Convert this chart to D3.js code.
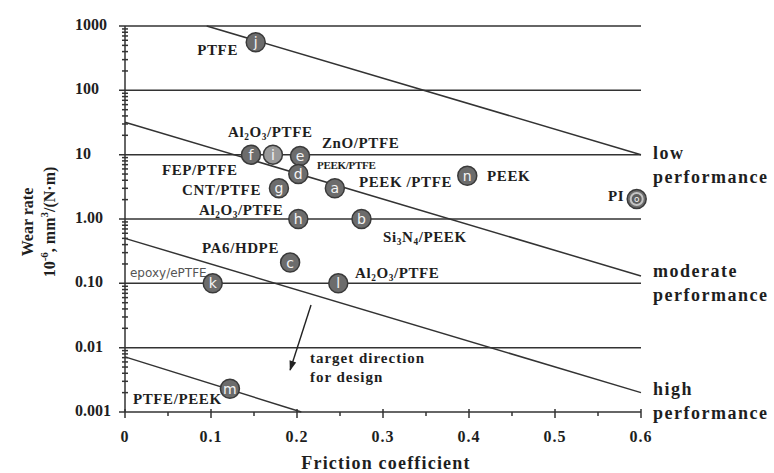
<!DOCTYPE html>
<html lang="en">
<head>
<meta charset="UTF-8">
<title>Wear rate vs. friction coefficient</title>
<script src="https://d3js.org/d3.v7.min.js"></script>
<style>
    body { margin: 0; background: #fff; }
    .lbl { font-family: "Liberation Serif", "Times New Roman", serif; font-weight: bold; fill: #1e1e1e; }
    .grid { stroke: #333; stroke-width: 1.5px; fill: none; }
    .bound { stroke: #333; stroke-width: 1.5px; fill: none; }
    .tick { stroke: #333; stroke-width: 1.5px; }
    .dot { stroke: #3a3a3a; stroke-width: 1.5px; }
    .dotText { font-family: "DejaVu Sans", sans-serif; fill: #f4f4f4; }
</style>
</head>
<body>
<svg id="chart" width="774" height="473"></svg>
<script>
// axis ticks
var frictionTicks = [0, 0.1, 0.2, 0.3, 0.4, 0.5, 0.6];
var frictionMinorTicks = [0.05, 0.15, 0.25, 0.35, 0.45, 0.55];
var wearTicks = [1000, 100, 10, 1, 0.1, 0.01, 0.001];
var wearTickLabels = ["1000", "100", "10", "1.00", "0.10", "0.01", "0.001"];
var gridLevels = [1000, 100, 10, 1, 0.1, 0.01];

// performance boundaries, [friction, wear rate] end points
var boundaryLow = [[0.095, 1000], [0.6, 10]];
var boundaryModerate = [[0, 32], [0.6, 0.13]];
var boundaryHigh = [[0, 0.5], [0.6, 0.002]];
var boundaryBottom = [[0, 0.0072], [0.205, 0.001]];

// materials
var pointIds      = ["a", "b", "c", "e", "d", "f", "g", "h", "i", "j", "k", "l", "m", "n", "o"];
var pointFriction = [0.244, 0.275, 0.192, 0.2035, 0.2015, 0.1465, 0.179, 0.2015, 0.172, 0.152, 0.102, 0.248, 0.122, 0.398, 0.595];
var pointWear     = [3.0, 1.0, 0.21, 9.5, 5.0, 10, 3.0, 1.0, 10, 560, 0.1, 0.1, 0.0023, 4.7, 2.05];

// material names (_n = subscript)
var labelTexts    = ["PTFE", "Al_2O_3/PTFE", "ZnO/PTFE", "FEP/PTFE", "PEEK/PTFE", "PEEK /PTFE", "PEEK", "CNT/PTFE",
                     "Al_2O_3/PTFE", "PI", "Si_3N_4/PEEK", "PA6/HDPE", "epoxy/ePTFE", "Al_2O_3/PTFE", "PTFE/PEEK"];
var labelFriction = [0.1314, 0.1198, 0.229, 0.043, 0.2233, 0.272, 0.421, 0.0663, 0.086, 0.5616, 0.300, 0.0895, 0.0058, 0.2674, 0.0093];
var labelWear     = [354, 18.8, 12.7, 4.83, 5.98, 3.14, 3.90, 2.36, 1.15, 1.91, 0.438, 0.296, 0.125, 0.121, 0.00133];

// zones
var zoneNames = ["low", "moderate", "high"];
var zoneWear = [8.57, 0.125, 0.00184];
var zoneFriction = 0.614;

// design arrow
var arrowFrom = [0.2163, 0.046];
var arrowTo = [0.192, 0.0045];
var arrowText = ["target direction", "for design"];
var arrowTextAt = [0.215, 0.00577];

var configuration = {
    "x_left": 125,
    "x_right": 641,
    "y_top": 26,
    "y_bottom": 412
};

var svg = d3.select("#chart");

var xScale = d3.scaleLinear()
        .domain([0, 0.6])
        .range([configuration["x_left"], configuration["x_right"]]);

var yScale = d3.scaleLog()
        .domain([0.001, 1000])
        .range([configuration["y_bottom"], configuration["y_top"]]);

var defs = svg.append("defs");
defs.append("marker")
        .attr("id", "arrowHead")
        .attr("viewBox", "0 0 10 10")
        .attr("refX", 9).attr("refY", 5)
        .attr("markerWidth", 11).attr("markerHeight", 10)
        .attr("markerUnits", "userSpaceOnUse")
        .attr("orient", "auto")
        .append("path")
        .attr("d", "M0,1.5 L10,5 L0,8.5 Z")
        .attr("fill", "#222");

// writes "Al_2O_3" style text into tspans
function writeRich(textSel, str, size) {
    var parts = str.split(/(_\d)/);
    var lowered = false;
    parts.forEach(function (p) {
        if (p === "") return;
        if (p[0] === "_") {
            textSel.append("tspan").style("font-size", (size * 0.62) + "px").attr("dy", 3).text(p.slice(1));
            lowered = true;
        } else {
            textSel.append("tspan").attr("dy", lowered ? -3 : 0).text(p);
            lowered = false;
        }
    });
}

//grid lines
svg.selectAll("line.grid")
        .data(gridLevels)
        .enter()
        .append("line")
        .attr("class", "grid")
        .attr("x1", configuration["x_left"] - 6)
        .attr("x2", xScale(0.6))
        .attr("y1", function (d) { return yScale(d); })
        .attr("y2", function (d) { return yScale(d); });

//axes
svg.append("line").attr("class", "grid")
        .attr("x1", configuration["x_left"] - 6).attr("x2", xScale(0.6))
        .attr("y1", yScale(0.001)).attr("y2", yScale(0.001));
svg.append("line").attr("class", "grid")
        .attr("x1", xScale(0)).attr("x2", xScale(0))
        .attr("y1", yScale(1000)).attr("y2", yScale(0.001));

// minor log ticks
var minorWear = [];
for (var e = -3; e < 3; e++) {
    for (var m = 2; m < 10; m++) minorWear.push(m * Math.pow(10, e));
}
svg.selectAll("line.minorY")
        .data(minorWear)
        .enter()
        .append("line")
        .attr("class", "tick")
        .attr("stroke-width", 1.3)
        .attr("x1", xScale(0) - 3).attr("x2", xScale(0) + 3)
        .attr("y1", function (d) { return yScale(d); })
        .attr("y2", function (d) { return yScale(d); });

svg.selectAll("line.majorX")
        .data(frictionTicks)
        .enter()
        .append("line")
        .attr("class", "tick")
        .attr("x1", function (d) { return xScale(d); })
        .attr("x2", function (d) { return xScale(d); })
        .attr("y1", yScale(0.001) - 3).attr("y2", yScale(0.001) + 6);
svg.selectAll("line.minorX")
        .data(frictionMinorTicks)
        .enter()
        .append("line")
        .attr("class", "tick")
        .attr("x1", function (d) { return xScale(d); })
        .attr("x2", function (d) { return xScale(d); })
        .attr("y1", yScale(0.001)).attr("y2", yScale(0.001) + 4);

//tick labels
svg.selectAll("text.yTick")
        .data(wearTicks)
        .enter()
        .append("text")
        .attr("class", "lbl")
        .style("font-size", "16px")
        .attr("x", 75)
        .attr("y", function (d) { return yScale(d) + 4; })
        .text(function (d, i) { return wearTickLabels[i]; });

svg.selectAll("text.xTick")
        .data(frictionTicks)
        .enter()
        .append("text")
        .attr("class", "lbl")
        .style("font-size", "16px")
        .style("letter-spacing", "1px")
        .attr("text-anchor", "middle")
        .attr("x", function (d) { return xScale(d); })
        .attr("y", 442)
        .text(function (d) { return d === 0 ? "0" : d3.format(".1f")(d); });

//axis titles
svg.append("text")
        .attr("class", "lbl")
        .style("font-size", "18px")
        .style("letter-spacing", "1.2px")
        .attr("text-anchor", "middle")
        .attr("x", 386).attr("y", 469)
        .text("Friction coefficient");

svg.append("text")
        .attr("class", "lbl")
        .style("font-size", "16px")
        .attr("text-anchor", "middle")
        .attr("transform", "translate(33,222) rotate(-90)")
        .text("Wear rate");

var yt = svg.append("text")
        .attr("class", "lbl")
        .style("font-size", "16px")
        .attr("text-anchor", "middle")
        .attr("transform", "translate(55,222) rotate(-90)");
yt.append("tspan").text("10");
yt.append("tspan").style("font-size", "11px").attr("dy", -7).text("-6");
yt.append("tspan").attr("dy", 7).text(", mm");
yt.append("tspan").style("font-size", "11px").attr("dy", -7).text("3");
yt.append("tspan").attr("dy", 7).text("/(N·m)");

//boundary lines
var lineShaper = d3.line()
        .x(function (d) { return xScale(d[0]); })
        .y(function (d) { return yScale(d[1]); });

[boundaryLow, boundaryModerate, boundaryHigh, boundaryBottom].forEach(function (b) {
    svg.append("path")
            .datum(b)
            .attr("class", "bound")
            .attr("d", lineShaper);
});

//arrow
svg.append("line")
        .attr("x1", xScale(arrowFrom[0])).attr("y1", yScale(arrowFrom[1]))
        .attr("x2", xScale(arrowTo[0])).attr("y2", yScale(arrowTo[1]))
        .attr("stroke", "#222").attr("stroke-width", 1.4)
        .attr("marker-end", "url(#arrowHead)");

var at = svg.append("text")
        .attr("class", "lbl")
        .style("font-size", "15px")
        .style("letter-spacing", "1px")
        .attr("x", xScale(arrowTextAt[0]))
        .attr("y", yScale(arrowTextAt[1]));
arrowText.forEach(function (t, i) {
    at.append("tspan")
            .attr("x", xScale(arrowTextAt[0]))
            .attr("dy", i === 0 ? 0 : 19)
            .text(t);
});

//zone labels
zoneNames.forEach(function (z, i) {
    var zt = svg.append("text")
            .attr("class", "lbl")
            .style("font-size", "18px")
            .style("letter-spacing", "1.5px")
            .attr("x", xScale(zoneFriction))
            .attr("y", yScale(zoneWear[i]));
    zt.append("tspan").attr("x", xScale(zoneFriction)).text(z);
    zt.append("tspan").attr("x", xScale(zoneFriction)).attr("dy", 24).text("performance");
});

//material labels
labelTexts.forEach(function (t, i) {
    var size = 15;
    var lt = svg.append("text")
            .attr("class", "lbl")
            .attr("x", xScale(labelFriction[i]))
            .attr("y", yScale(labelWear[i]));
    if (t === "PTFE") lt.attr("text-anchor", "end");
    if (i === 4) {
        size = 11;
        lt.style("letter-spacing", "-0.3px");
    } else if (i === 12) {
        size = 12;
        lt.style("font-family", "'DejaVu Sans', sans-serif")
                .style("font-weight", "normal")
                .style("fill", "#555");
    } else {
        lt.style("letter-spacing", "0.6px");
    }
    lt.style("font-size", size + "px");
    writeRich(lt, t, size);
});

//points
var pts = svg.selectAll("g.pt")
        .data(pointIds)
        .enter()
        .append("g")
        .attr("transform", function (d, i) {
            return "translate(" + xScale(pointFriction[i]) + "," + yScale(pointWear[i]) + ")";
        });

pts.append("circle")
        .attr("class", "dot")
        .attr("r", 9.5)
        .attr("fill", function (d) { return d === "i" ? "#9a9a9a" : "#6c6c6c"; });

pts.filter(function (d) { return d === "o"; })
        .each(function () {
            var g = d3.select(this);
            g.append("circle").attr("r", 7).attr("fill", "#c4c4c4");
            g.append("circle").attr("r", 5).attr("fill", "#5e5e5e");
        });

pts.append("text")
        .attr("class", "dotText")
        .attr("text-anchor", "middle")
        .attr("dy", "0.35em")
        .style("font-size", function (d) { return d === "o" ? "9px" : "14px"; })
        .text(function (d) { return d; });
</script>
</body>
</html>
